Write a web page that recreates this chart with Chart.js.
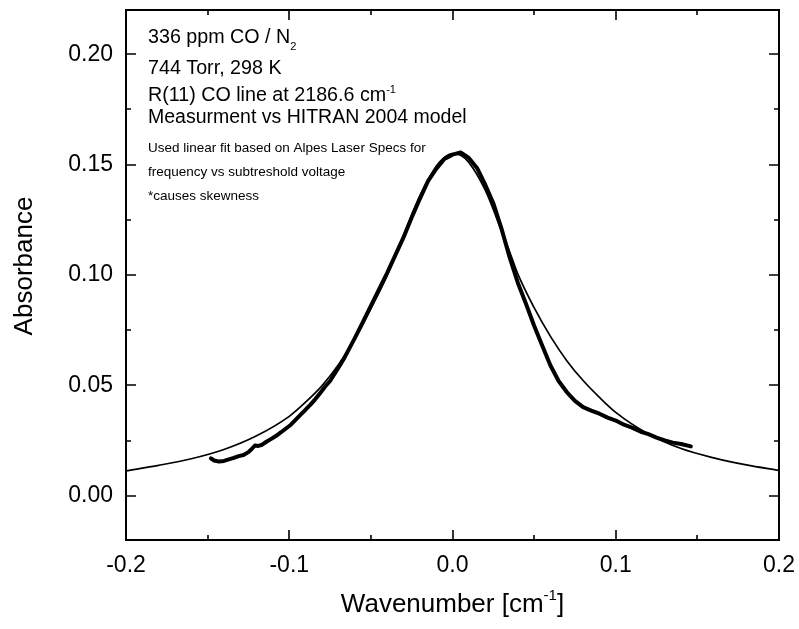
<!DOCTYPE html>
<html>
<head>
<meta charset="utf-8">
<title>CO R(11) line absorbance</title>
<script src="https://cdn.jsdelivr.net/npm/chart.js@4.4.1/dist/chart.umd.min.js"></script>
<style>
  html, body { margin: 0; padding: 0; background: #fff; }
  #wrap { width: 799px; height: 629px; }
</style>
</head>
<body>
<div id="wrap"><canvas id="chart" width="799" height="629"></canvas></div>
<script>
// HITRAN 2004 model line (thin)
const modelX = [-0.20, -0.18, -0.16, -0.14, -0.12, -0.10, -0.09, -0.08, -0.07, -0.06, -0.05, -0.04, -0.03, -0.02, -0.01, -0.005,
  0.00, 0.005, 0.01, 0.02, 0.03, 0.035, 0.04, 0.05, 0.06, 0.07, 0.08, 0.09, 0.10, 0.12, 0.14, 0.16, 0.18, 0.20];
const modelY = [0.0113, 0.0138, 0.0168, 0.0210, 0.0272, 0.0360, 0.0424, 0.0498, 0.0592, 0.0710, 0.0848, 0.0998, 0.1180, 0.1358, 0.1492, 0.1533,
  0.1550, 0.1542, 0.1510, 0.1385, 0.1200, 0.1105, 0.1005, 0.0852, 0.0722, 0.0612, 0.0522, 0.0446, 0.0378, 0.0280, 0.0214, 0.0172, 0.0140, 0.0115];

// measured absorbance (thick)
const measX = [-0.148, -0.146, -0.143, -0.140, -0.137, -0.134, -0.131, -0.128, -0.125, -0.123, -0.121, -0.119, -0.117, -0.114,
  -0.111, -0.108, -0.105, -0.102, -0.099, -0.096, -0.093, -0.090, -0.087, -0.084, -0.081, -0.078, -0.075, -0.072,
  -0.069, -0.066, -0.063, -0.060, -0.055, -0.050, -0.045, -0.040, -0.035, -0.030, -0.025, -0.020, -0.015, -0.010,
  -0.005, 0.000, 0.005, 0.010, 0.015, 0.020, 0.025, 0.030, 0.035, 0.040, 0.045, 0.050, 0.055, 0.060, 0.065,
  0.070, 0.075, 0.080, 0.085, 0.090, 0.095, 0.100, 0.105, 0.110, 0.115, 0.120, 0.125, 0.130, 0.135, 0.140, 0.146];
const measY = [0.0170, 0.0160, 0.0155, 0.0158, 0.0165, 0.0172, 0.0180, 0.0185, 0.0198, 0.0212, 0.0228, 0.0226, 0.0230, 0.0245,
  0.0258, 0.0272, 0.0288, 0.0305, 0.0322, 0.0345, 0.0368, 0.0390, 0.0413, 0.0438, 0.0466, 0.0495, 0.0520, 0.0555,
  0.0590, 0.0628, 0.0670, 0.0712, 0.0785, 0.0860, 0.0935, 0.1010, 0.1090, 0.1170, 0.1260, 0.1345, 0.1425, 0.1480,
  0.1525, 0.1545, 0.1555, 0.1530, 0.1485, 0.1410, 0.1325, 0.1210, 0.1080, 0.0965, 0.0870, 0.0770, 0.0680, 0.0590, 0.0520,
  0.0470, 0.0430, 0.0402, 0.0386, 0.0372, 0.0354, 0.0341, 0.0322, 0.0309, 0.0291, 0.0279, 0.0264, 0.0251, 0.0241, 0.0235, 0.0224];

// ticks
const xTicks = [-0.2, -0.1, 0.0, 0.1, 0.2];
const xMinor = [-0.15, -0.05, 0.05, 0.15];
const yTicks = [0.00, 0.05, 0.10, 0.15, 0.20];
const yMinor = [-0.025, 0.025, 0.075, 0.125, 0.175, 0.225];

const FONT = "'Liberation Sans', Arial, Helvetica, sans-serif";

const toPts = (xs, ys) => xs.map((x, i) => ({ x: x, y: ys[i] }));

// text with sub/superscripts: parts = [[text, size, dy], ...]
function richWidth(ctx, parts) {
  let w = 0;
  parts.forEach(p => { ctx.font = p[1] + 'px ' + FONT; w += ctx.measureText(p[0]).width; });
  return w;
}
function drawRich(ctx, parts, x, y) {
  parts.forEach(p => {
    ctx.font = p[1] + 'px ' + FONT;
    ctx.fillText(p[0], x, y + (p[2] || 0));
    x += ctx.measureText(p[0]).width;
  });
}

const framePlugin = {
  id: 'frame',
  afterDraw(chart) {
    const ctx = chart.ctx;
    const a = chart.chartArea;
    const xs = chart.scales.x, ys = chart.scales.y;
    ctx.save();
    ctx.strokeStyle = '#000';
    ctx.fillStyle = '#000';
    ctx.lineWidth = 2;
    ctx.strokeRect(a.left, a.top, a.right - a.left, a.bottom - a.top);

    // inward ticks on all four sides
    ctx.lineWidth = 1.6;
    ctx.beginPath();
    const xt = (v, len) => {
      const px = Math.round(xs.getPixelForValue(v));
      ctx.moveTo(px, a.bottom); ctx.lineTo(px, a.bottom - len);
      ctx.moveTo(px, a.top); ctx.lineTo(px, a.top + len);
    };
    const yt = (v, len) => {
      const py = Math.round(ys.getPixelForValue(v));
      ctx.moveTo(a.left, py); ctx.lineTo(a.left + len, py);
      ctx.moveTo(a.right, py); ctx.lineTo(a.right - len, py);
    };
    xTicks.forEach(v => xt(v, 10));
    xMinor.forEach(v => xt(v, 5));
    yTicks.forEach(v => yt(v, 10));
    yMinor.forEach(v => { if (v > ys.min && v < ys.max) yt(v, 5); });
    ctx.stroke();

    // annotation block
    ctx.textAlign = 'left';
    ctx.textBaseline = 'alphabetic';
    const tx = 148;
    drawRich(ctx, [['336 ppm CO / N', 19.7, 0], ['2', 11, 7]], tx, 42.5);
    drawRich(ctx, [['744 Torr, 298 K', 19.7, 0]], tx, 74);
    drawRich(ctx, [['R(11) CO line at 2186.6 cm', 19.7, 0], ['-1', 11, -8]], tx, 101);
    drawRich(ctx, [['Measurment vs HITRAN 2004 model', 19.5, 0]], tx, 123);
    drawRich(ctx, [['Used linear fit based on Alpes Laser Specs for', 13.5, 0]], tx, 152);
    drawRich(ctx, [['frequency vs subtreshold voltage', 13.5, 0]], tx, 176);
    drawRich(ctx, [['*causes skewness', 13.5, 0]], tx, 200);

    // x axis title
    const xParts = [['Wavenumber [cm', 26, 0], ['-1', 15, -12], [']', 26, 0]];
    const cx = (a.left + a.right) / 2;
    drawRich(ctx, xParts, cx - richWidth(ctx, xParts) / 2, 612);

    // y axis title
    ctx.translate(32, 266);
    ctx.rotate(-Math.PI / 2);
    ctx.font = '26px ' + FONT;
    ctx.textAlign = 'center';
    ctx.fillText('Absorbance', 0, 0);
    ctx.restore();
  }
};

new Chart(document.getElementById('chart'), {
  type: 'line',
  data: {
    datasets: [
      {
        label: 'HITRAN 2004 model',
        data: toPts(modelX, modelY),
        borderColor: '#000',
        borderWidth: 1.7,
        pointRadius: 0,
        cubicInterpolationMode: 'monotone',
        fill: false
      },
      {
        label: 'Measurement',
        data: toPts(measX, measY),
        borderColor: '#000',
        borderWidth: 4,
        pointRadius: 0,
        tension: 0,
        borderJoinStyle: 'round',
        borderCapStyle: 'round',
        fill: false
      }
    ]
  },
  options: {
    responsive: false,
    animation: false,
    layout: { padding: { top: 10, right: 20, left: 0, bottom: 0 } },
    plugins: {
      legend: { display: false },
      tooltip: { enabled: false }
    },
    scales: {
      x: {
        type: 'linear',
        min: -0.2,
        max: 0.2,
        grid: { display: false, drawTicks: false },
        border: { display: false },
        afterBuildTicks: s => { s.ticks = xTicks.map(v => ({ value: v })); },
        afterFit: s => { s.height = 89; s.paddingLeft = 0; s.paddingRight = 0; },
        ticks: {
          padding: 12,
          color: '#000',
          font: { family: FONT, size: 23 },
          maxRotation: 0,
          callback: v => v.toFixed(1)
        }
      },
      y: {
        type: 'linear',
        min: -0.02,
        max: 0.22,
        grid: { display: false, drawTicks: false },
        border: { display: false },
        afterBuildTicks: s => { s.ticks = yTicks.map(v => ({ value: v })); },
        afterFit: s => { s.width = 126; s.paddingTop = 0; s.paddingBottom = 0; },
        ticks: {
          padding: 13,
          color: '#000',
          font: { family: FONT, size: 23 },
          callback: v => v.toFixed(2)
        }
      }
    }
  },
  plugins: [framePlugin]
});
</script>
</body>
</html>
